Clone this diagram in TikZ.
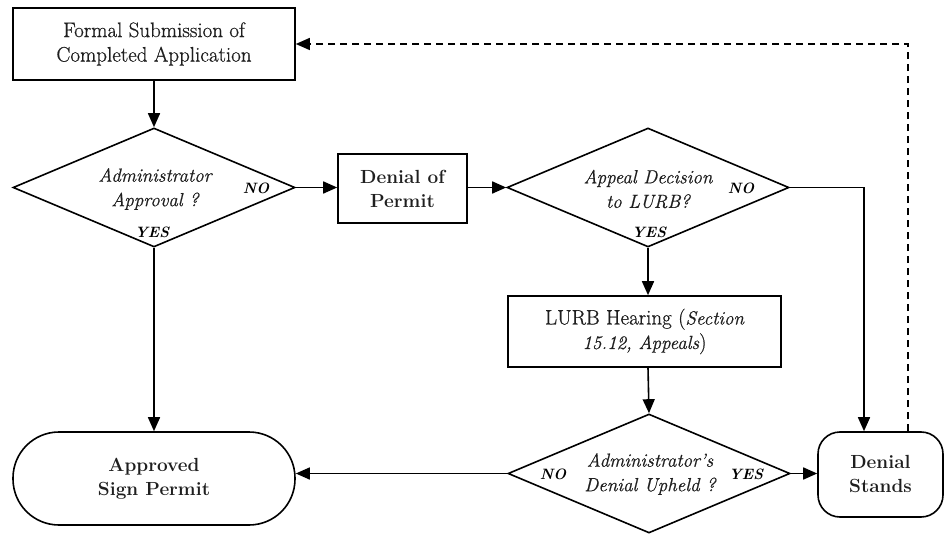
\documentclass[tikz,border=0pt]{standalone}
\usepackage{fontspec}
\setmainfont{Latin Modern Roman}[UprightFeatures={FakeBold=0.7},ItalicFeatures={FakeBold=0.7}]
\usetikzlibrary{shapes.geometric,arrows.meta}
\begin{document}
\begin{tikzpicture}[x=1pt,y=-1pt,
  txt/.style={text=black!88,font=\fontsize{21}{24.5}\selectfont,align=center},
  box/.style={draw,line width=1.6pt,txt,inner sep=0pt},
  bbox/.style={box,font=\fontsize{19}{24}\selectfont\bfseries},
  dec/.style={draw,line width=1.6pt,diamond,aspect=2.37,minimum width=282pt,minimum height=119pt,inner sep=0pt},
  dtext/.style={txt,font=\fontsize{19}{24.5}\selectfont\itshape},
  lab/.style={text=black,font=\fontsize{15}{16}\selectfont\bfseries\itshape,inner sep=0pt},
  conn/.style={line width=1.6pt,-{Triangle[length=14pt,width=12pt]}},
  back/.style={line width=1.4pt,dash pattern=on 7pt off 5pt,-{Triangle[length=14pt,width=12pt]}}]
\useasboundingbox (0,0) rectangle (944,534);
% nodes
\node[box,minimum width=282pt,minimum height=72pt] (fs) at (154,44) {Formal Submission of\\Completed Application};
\node[dec] (d1) at (154,187.5) {};
\node[dtext] (d1t) at (155,189) {Administrator\\Approval ?};
\node[bbox,minimum width=129pt,minimum height=69pt] (dp) at (402.5,188.5) {Denial of\\Permit};
\node[dec] (d2) at (648,187.5) {};
\node[dtext] (d2t) at (648,189) {Appeal Decision\\to LURB?};
\node[box,minimum width=273pt,minimum height=71pt] (lh) at (644.5,331.5) {LURB Hearing ({\fontsize{19}{24.5}\selectfont\itshape Section}\\{\fontsize{19}{24.5}\selectfont\itshape 15.12, Appeals})};
\node[dec,minimum width=282pt] (d3) at (649,473.5) {};
\node[dtext] (d3t) at (650,474) {Administrator's\\Denial Upheld ?};
\node[bbox,minimum width=282pt,minimum height=93pt,rounded corners=46pt] (ap) at (154,478.5) {Approved\\Sign Permit};
\node[bbox,minimum width=125pt,minimum height=85pt,rounded corners=22pt] (ds) at (880.5,474.5) {Denial\\Stands};
% labels
\node[lab] (l1) at (256,188) {NO};
\node[lab] (l2) at (152,232) {YES};
\node[lab] (l3) at (741,188) {NO};
\node[lab] (l4) at (649,232) {YES};
\node[lab] (l5) at (553,474) {NO};
\node[lab] (l6) at (746,474) {YES};
% coordinates
\coordinate (c1) at (864,187.5);
\coordinate (c2) at (908,432);
% connectors
\draw[conn] (fs.south) -- (d1.north);
\draw[conn] (d1.east) -- (dp.west |- d1.east);
\draw[conn] (dp.east |- d2.west) -- (d2.west);
\draw[conn] (d2.south) -- (d2.south |- lh.north);
\draw[conn] (d2.south |- lh.south) -- (d3.north);
\draw[conn] (d2.east) -- (c1) -- (c1 |- ds.north);
\draw[back] (c2 |- ds.north) |- (fs.east);
\draw[conn] (d1.south) -- (d1.south |- ap.north);
\draw[conn] (d3.west) -- (d3.west -| ap.east);
\draw[conn] (d3.east) -- (d3.east -| ds.west);
\end{tikzpicture}
\end{document}
